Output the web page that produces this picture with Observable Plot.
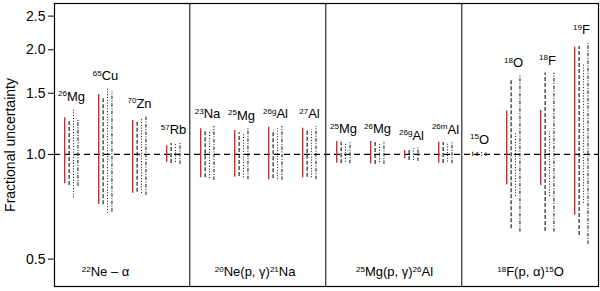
<!DOCTYPE html>
<html>
<head>
<meta charset="utf-8">
<script src="https://cdn.jsdelivr.net/npm/d3@7"></script>
<script src="https://cdn.jsdelivr.net/npm/@observablehq/plot@0.6"></script>
<style>
  html, body { margin: 0; padding: 0; background: #fff; }
  svg { font-family: "Liberation Sans", Arial, sans-serif; }
</style>
</head>
<body>
<div id="chart"></div>
<script>
// ---- data ----
const isotopes = ["^{26}Mg", "^{65}Cu", "^{70}Zn", "^{57}Rb",
                  "^{23}Na", "^{25}Mg", "^{26g}Al", "^{27}Al",
                  "^{25}Mg", "^{26}Mg", "^{26g}Al", "^{26m}Al",
                  "^{15}O", "^{18}O", "^{18}F", "^{19}F"];
const panels = ["^{22}Ne – α", "^{20}Ne(p, γ)^{21}Na", "^{25}Mg(p, γ)^{26}Al", "^{18}F(p, α)^{15}O"];
const perPanel = 4;

// red solid
const redHi = [1.275, 1.488, 1.253, 1.059, 1.186, 1.172, 1.198, 1.190, 1.090, 1.090, 1.027, 1.085, 1.015, 1.334, 1.338, 2.035];
const redLo = [0.824, 0.718, 0.774, 0.950, 0.857, 0.860, 0.846, 0.857, 0.944, 0.940, 0.972, 0.944, 0.987, 0.818, 0.814, 0.668];
// black dashed
const dashHi = [1.244, 1.461, 1.239, 1.076, 1.167, 1.154, 1.172, 1.178, 1.085, 1.083, 1.038, 1.083, 1.013, 1.651, 1.716, 2.044];
const dashLo = [0.814, 0.717, 0.779, 0.942, 0.857, 0.864, 0.851, 0.860, 0.940, 0.936, 0.961, 0.942, 0.987, 0.611, 0.600, 0.585];
// black dotted
const dotHi = [1.353, 1.548, 1.269, 1.068, 1.159, 1.147, 1.186, 1.178, 1.074, 1.076, 1.040, 1.072, 1.013, 1.159, 1.165, 1.815];
const dotLo = [0.750, 0.677, 0.772, 0.948, 0.853, 0.857, 0.846, 0.857, 0.950, 0.948, 0.961, 0.951, 0.987, 0.757, 0.757, 0.723];
// black dash-dot
const ddHi = [1.261, 1.518, 1.289, 1.083, 1.204, 1.193, 1.204, 1.204, 1.085, 1.090, 1.047, 1.085, 1.013, 1.687, 1.714, 2.100];
const ddLo = [0.809, 0.682, 0.762, 0.936, 0.842, 0.846, 0.842, 0.846, 0.940, 0.936, 0.955, 0.940, 0.987, 0.598, 0.598, 0.551];

const yTicks = [0.5, 1.0, 1.5, 2.0, 2.5];

// ---- build tables ----
const series = [
  {hi: redHi, lo: redLo, off: 0.00, stroke: "#d42a2a", width: 1.4, dash: null},
  {hi: dashHi, lo: dashLo, off: 0.13, stroke: "#111", width: 1.1, dash: "4,2"},
  {hi: dotHi, lo: dotLo, off: 0.26, stroke: "#111", width: 1.0, dash: "1,1.8"},
  {hi: ddHi, lo: ddLo, off: 0.39, stroke: "#111", width: 1.0, dash: "3.5,1.5,1,1.5"}
];
const lineMarks = series.map(s =>
  Plot.ruleX(isotopes.map((name, i) => ({x: i + s.off, lo: s.lo[i], hi: s.hi[i]})),
    {x: "x", y1: "lo", y2: "hi", stroke: s.stroke, strokeWidth: s.width,
     strokeDasharray: s.dash ?? undefined})
);
const labels = isotopes.map((name, i) => ({
  x: i + 0.2, y: Math.max(redHi[i], dashHi[i], dotHi[i], ddHi[i]), name
}));
const dividers = panels.slice(0, -1).map((_, p) => (p + 1) * perPanel - 1 + 0.68);
const titleShift = [-0.5, -0.1, 0, 0];
const titles = panels.map((t, p) => ({x: p * perPanel + 1.5 + 0.2 + titleShift[p], t}));

const chart = Plot.plot({
  width: 600,
  height: 291,
  marginLeft: 54,
  marginRight: 2,
  marginTop: 3,
  marginBottom: 5,
  x: {domain: [-0.3, 15.7], axis: null},
  y: {type: "log", domain: [0.417, 2.718], label: null},
  marks: [
    Plot.ruleY([1], {stroke: "#000", strokeWidth: 1.2, strokeDasharray: "6,4"}),
    ...lineMarks,
    Plot.ruleX(dividers, {stroke: "#000", strokeWidth: 1}),
    Plot.text(labels, {x: "x", y: "y", text: "name", dy: -8, lineAnchor: "bottom",
      fontSize: 13, fill: "#000"}),
    Plot.text(titles, {x: "x", y: () => 0.417, text: "t", dy: -10, lineAnchor: "bottom",
      fontSize: 13, fill: "#000"}),
    Plot.axisY({ticks: yTicks, tickFormat: ".1f", tickSize: 6, tickPadding: 3,
      fontSize: 14, label: null}),
    Plot.text(["Fractional uncertainty"], {frameAnchor: "left", textAnchor: "middle",
      dx: -44, rotate: -90, fontSize: 14, fill: "#000"}),
    Plot.frame({stroke: "#000", strokeWidth: 1.2})
  ]
});

// turn ^{..} markup into real superscript tspans
chart.querySelectorAll("text").forEach(t => {
  const s = t.textContent;
  if (!s.includes("^{")) return;
  t.textContent = "";
  const re = /\^\{([^}]*)\}|([^^]+)/g;
  let m, raised = false;
  while ((m = re.exec(s))) {
    const ts = document.createElementNS("http://www.w3.org/2000/svg", "tspan");
    if (m[1] !== undefined) {
      ts.textContent = m[1];
      ts.setAttribute("font-size", "0.62em");
      ts.setAttribute("dy", raised ? "0" : "-0.6em");
      raised = true;
    } else {
      ts.textContent = m[2];
      if (raised) ts.setAttribute("dy", "0.37em");
      raised = false;
    }
    t.appendChild(ts);
  }
});
document.getElementById("chart").appendChild(chart);
</script>
</body>
</html>
